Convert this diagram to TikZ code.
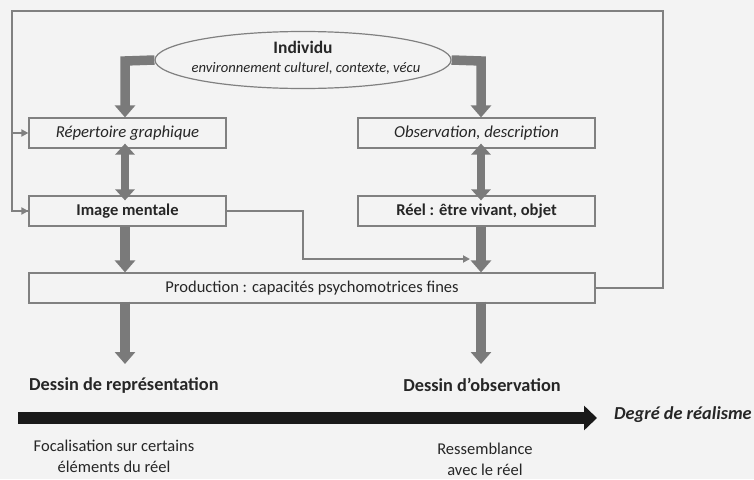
\documentclass[tikz,border=0pt]{standalone}
\usepackage{fontspec}
\setmainfont{Carlito}
\usetikzlibrary{shapes.geometric,arrows.meta}
\definecolor{bg}{HTML}{F3F3F3}
\definecolor{garr}{HTML}{7A7A7A}
\definecolor{gline}{HTML}{808080}
\definecolor{txt}{HTML}{262626}
\tikzset{
  box/.style={draw=gline, line width=1.2pt, fill=bg, minimum height=30pt, inner sep=0pt, text=txt, font=\fontsize{16.5}{18}\selectfont},
  bigarrow/.style={draw=garr, line width=9.5pt, line join=miter, -{Triangle[width=20pt,length=12pt]}},
  dblarrow/.style={draw=garr, line width=8pt, {Triangle[width=19pt,length=11pt]}-{Triangle[width=19pt,length=11pt]}},
  thin/.style={draw=gline, line width=1.8pt},
  thinarrow/.style={thin, -{Triangle[width=7pt,length=7pt]}},
  lbl/.style={text=txt, inner sep=0pt},
}
\begin{document}
\begin{tikzpicture}[x=1pt,y=-1pt]
\fill[bg] (0,0) rectangle (754,479);
\useasboundingbox (0,0) rectangle (754,479);

% ellipse
\node[ellipse, draw=gline, line width=1.2pt, fill=bg, minimum width=296pt, minimum height=57pt, inner sep=0pt] (ind) at (303,60) {};
\node[lbl, font=\fontsize{17.5}{19}\selectfont\bfseries] (indt) at (303,47) {Individu};
\node[lbl, font=\fontsize{14.6}{16}\selectfont\itshape] (indc) at (306,68) {environnement culturel, contexte, vécu};

% boxes
\node[box, minimum width=197pt, font=\fontsize{16.7}{18}\selectfont\itshape] (rep) at (127.5,133) {Répertoire graphique};
\node[box, minimum width=237pt, font=\fontsize{16.7}{18}\selectfont\itshape] (obs) at (476.5,133) {Observation, description};
\node[box, minimum width=197pt, font=\fontsize{16.5}{18}\selectfont\bfseries] (img) at (127.5,211) {Image mentale};
\node[box, minimum width=237pt, font=\fontsize{16.5}{18}\selectfont\bfseries] (reel) at (476.5,211) {Réel : être vivant, objet};
\node[box, minimum width=566pt] (prod) at (312,288) {Production : capacités psychomotrices fines};

% outer feedback loop
\coordinate (c1) at (663,11);
\coordinate (c2) at (12,11);
\coordinate (c3) at (12,133);
\draw[thin] (prod.east) -| (c1) -- (c2) |- (img.west);
\draw[thinarrow] (c3) -- (rep.west);
\draw[thinarrow] (c2) |- (img.west);

% image mentale to production
\coordinate (m1) at (303,259);
\coordinate (m2) at (470,259);
\draw[thinarrow] (img.east) -| (m1) -- (m2);

% elbow arrows from ellipse
\coordinate (la) at (125,61);
\coordinate (ra) at (481,61);
\draw[bigarrow] (ind.west) -- (la) -- (la |- rep.north);
\draw[bigarrow] (ind.east) -- (ra) -- (ra |- obs.north);

% double arrows
\draw[dblarrow] ([yshift=5pt]rep.south -| la) -- ([yshift=-5pt]img.north -| la);
\draw[dblarrow] ([yshift=5pt]obs.south -| ra) -- ([yshift=-5pt]reel.north -| ra);

% down arrows to production
\draw[bigarrow] (img.south -| la) -- (prod.north -| la);
\draw[bigarrow] (reel.south -| ra) -- (prod.north -| ra);

% outcomes
\node[lbl, font=\fontsize{18.3}{20}\selectfont\bfseries, anchor=west] (drep) at (29,385) {Dessin de représentation};
\node[lbl, font=\fontsize{18.3}{20}\selectfont\bfseries] (dobs) at (482,385) {Dessin d’observation};
\draw[bigarrow] ([yshift=2pt]prod.south -| la) -- (la |- 0,364);
\draw[bigarrow] ([yshift=2pt]prod.south -| ra) -- (ra |- 0,364);

% realism axis
\coordinate (ax0) at (18,418);
\node[lbl, font=\fontsize{18.3}{20}\selectfont\bfseries\itshape, anchor=west] (deg) at (614,415) {Degré de réalisme};
\coordinate (ax1) at (597,418);
\draw[line width=12pt, draw=black!90, -{Triangle[width=24pt,length=13pt]}] (ax0) -- (ax1);

\node[lbl, align=center, font=\fontsize{16.5}{21}\selectfont] (foc) at (114,456) {Focalisation sur certains\\éléments du réel};
\node[lbl, align=center, font=\fontsize{16.5}{21}\selectfont] (res) at (485,459) {Ressemblance\\avec le réel};
\end{tikzpicture}
\end{document}
